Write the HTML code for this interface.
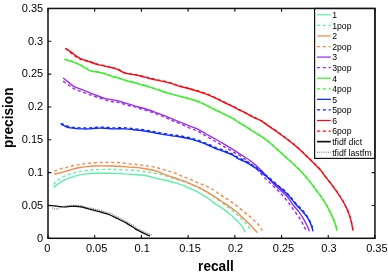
<!DOCTYPE html><html><head><meta charset="utf-8"><style>
html,body{margin:0;padding:0;background:#fff;width:388px;height:274px;overflow:hidden}
svg{display:block;will-change:transform}
text{font-family:"Liberation Sans", sans-serif;}
</style></head><body>
<svg width="388" height="274" viewBox="0 0 388 274">
<rect width="388" height="274" fill="#fff"/>
<path d="M53.40,187.50C54.05,186.98 55.62,185.57 57.30,184.40C58.98,183.23 61.18,181.67 63.50,180.50C65.82,179.33 68.63,178.30 71.20,177.40C73.77,176.50 76.32,175.68 78.90,175.10C81.48,174.52 84.12,174.20 86.70,173.90C89.28,173.60 90.85,173.40 94.40,173.30C97.95,173.20 103.93,173.25 108.00,173.30C112.07,173.35 115.13,173.45 118.80,173.60C122.47,173.75 126.92,174.02 130.00,174.20C133.08,174.38 134.87,174.48 137.30,174.70C139.73,174.92 142.47,175.17 144.60,175.50C146.73,175.83 148.28,176.27 150.10,176.70C151.92,177.13 153.85,177.70 155.50,178.10C157.15,178.50 158.33,178.73 160.00,179.10C161.67,179.47 163.68,179.87 165.50,180.30C167.32,180.73 169.08,181.23 170.90,181.70C172.72,182.17 174.57,182.57 176.40,183.10C178.23,183.63 179.97,184.15 181.90,184.90C183.83,185.65 186.22,186.85 188.00,187.60C189.78,188.35 191.08,188.72 192.60,189.40C194.12,190.08 195.58,190.87 197.10,191.70C198.62,192.53 200.18,193.50 201.70,194.40C203.22,195.30 204.68,196.12 206.20,197.10C207.72,198.08 209.33,199.20 210.80,200.30C212.27,201.40 213.53,202.68 215.00,203.70C216.47,204.72 218.08,205.42 219.60,206.40C221.12,207.38 222.58,208.50 224.10,209.60C225.62,210.70 227.18,211.78 228.70,213.00C230.22,214.22 231.98,215.80 233.20,216.90C234.42,218.00 234.93,218.52 236.00,219.60C237.07,220.68 238.47,222.08 239.60,223.40C240.73,224.72 241.88,226.02 242.80,227.50C243.72,228.98 244.72,231.50 245.10,232.30" fill="none" stroke="#5ef0a8" stroke-width="1.4" stroke-linejoin="round"/>
<path d="M53.40,184.40C54.05,183.75 55.62,181.80 57.30,180.50C58.98,179.20 61.18,177.75 63.50,176.60C65.82,175.45 68.63,174.42 71.20,173.60C73.77,172.78 76.32,172.22 78.90,171.70C81.48,171.18 84.12,170.83 86.70,170.50C89.28,170.17 90.85,169.90 94.40,169.70C97.95,169.50 103.93,169.32 108.00,169.30C112.07,169.28 114.68,169.43 118.80,169.60C122.92,169.77 129.32,170.10 132.70,170.30C136.08,170.50 137.05,170.57 139.10,170.80C141.15,171.03 143.02,171.43 145.00,171.70C146.98,171.97 149.10,172.10 151.00,172.40C152.90,172.70 154.45,173.08 156.40,173.50C158.35,173.92 160.73,174.37 162.70,174.90C164.67,175.43 165.98,175.98 168.20,176.70C170.42,177.42 173.70,178.45 176.00,179.20C178.30,179.95 180.00,180.52 182.00,181.20C184.00,181.88 186.23,182.67 188.00,183.30C189.77,183.93 191.08,184.38 192.60,185.00C194.12,185.62 195.58,186.28 197.10,187.00C198.62,187.72 200.18,188.47 201.70,189.30C203.22,190.13 204.68,191.08 206.20,192.00C207.72,192.92 209.33,193.83 210.80,194.80C212.27,195.77 213.38,196.63 215.00,197.80C216.62,198.97 218.68,200.47 220.50,201.80C222.32,203.13 224.23,204.58 225.90,205.80C227.57,207.02 228.90,207.87 230.50,209.10C232.10,210.33 234.13,212.08 235.50,213.20C236.87,214.32 237.40,214.55 238.70,215.80C240.00,217.05 241.85,219.20 243.30,220.70C244.75,222.20 246.12,223.17 247.40,224.80C248.68,226.43 250.40,229.55 251.00,230.50" fill="none" stroke="#5ef0a8" stroke-width="1.4" stroke-dasharray="3.2 2.6" stroke-linejoin="round"/>
<path d="M54.20,174.30C55.23,174.05 58.33,173.32 60.40,172.80C62.47,172.28 64.55,171.80 66.60,171.20C68.65,170.60 70.65,169.78 72.70,169.20C74.75,168.62 76.57,168.13 78.90,167.70C81.23,167.27 84.12,166.88 86.70,166.60C89.28,166.32 91.83,166.12 94.40,166.00C96.97,165.88 99.83,165.90 102.10,165.90C104.37,165.90 105.22,165.93 108.00,166.00C110.78,166.07 115.13,166.12 118.80,166.30C122.47,166.48 126.92,166.88 130.00,167.10C133.08,167.32 135.02,167.37 137.30,167.60C139.58,167.83 141.57,168.15 143.70,168.50C145.83,168.85 148.13,169.30 150.10,169.70C152.07,170.10 153.85,170.45 155.50,170.90C157.15,171.35 158.33,171.73 160.00,172.40C161.67,173.07 163.68,174.18 165.50,174.90C167.32,175.62 169.08,176.10 170.90,176.70C172.72,177.30 174.57,177.90 176.40,178.50C178.23,179.10 180.08,179.67 181.90,180.30C183.72,180.93 185.52,181.55 187.30,182.30C189.08,183.05 190.97,184.07 192.60,184.80C194.23,185.53 195.58,186.02 197.10,186.70C198.62,187.38 200.18,188.10 201.70,188.90C203.22,189.70 204.68,190.62 206.20,191.50C207.72,192.38 209.28,193.28 210.80,194.20C212.32,195.12 213.83,196.03 215.30,197.00C216.77,197.97 218.13,199.00 219.60,200.00C221.07,201.00 222.58,201.98 224.10,203.00C225.62,204.02 227.18,205.03 228.70,206.10C230.22,207.17 231.68,208.28 233.20,209.40C234.72,210.52 236.42,211.60 237.80,212.80C239.18,214.00 240.13,215.28 241.50,216.60C242.87,217.92 244.48,219.27 246.00,220.70C247.52,222.13 249.23,223.77 250.60,225.20C251.97,226.63 253.07,228.05 254.20,229.30C255.33,230.55 256.87,232.13 257.40,232.70" fill="none" stroke="#f78a4c" stroke-width="1.4" stroke-linejoin="round"/>
<path d="M54.20,171.20C55.23,170.82 58.33,169.53 60.40,168.90C62.47,168.27 64.55,167.92 66.60,167.40C68.65,166.88 70.65,166.27 72.70,165.80C74.75,165.33 76.57,164.98 78.90,164.60C81.23,164.22 84.12,163.82 86.70,163.50C89.28,163.18 91.83,162.88 94.40,162.70C96.97,162.52 99.83,162.45 102.10,162.40C104.37,162.35 105.22,162.37 108.00,162.40C110.78,162.43 115.13,162.35 118.80,162.60C122.47,162.85 126.77,163.57 130.00,163.90C133.23,164.23 135.77,164.33 138.20,164.60C140.63,164.87 142.62,165.20 144.60,165.50C146.58,165.80 148.28,166.08 150.10,166.40C151.92,166.72 153.85,167.03 155.50,167.40C157.15,167.77 158.18,168.08 160.00,168.60C161.82,169.12 164.42,169.92 166.40,170.50C168.38,171.08 170.08,171.50 171.90,172.10C173.72,172.70 175.48,173.37 177.30,174.10C179.12,174.83 180.97,175.77 182.80,176.50C184.63,177.23 186.37,177.72 188.30,178.50C190.23,179.28 192.47,180.37 194.40,181.20C196.33,182.03 198.08,182.75 199.90,183.50C201.72,184.25 203.57,184.95 205.30,185.70C207.03,186.45 208.63,187.08 210.30,188.00C211.97,188.92 213.60,190.03 215.30,191.20C217.00,192.37 218.88,193.92 220.50,195.00C222.12,196.08 223.42,196.72 225.00,197.70C226.58,198.68 228.40,199.83 230.00,200.90C231.60,201.97 233.00,202.88 234.60,204.10C236.20,205.32 238.00,206.90 239.60,208.20C241.20,209.50 242.67,210.67 244.20,211.90C245.73,213.13 247.20,214.22 248.80,215.60C250.40,216.98 252.13,218.60 253.80,220.20C255.47,221.80 257.37,223.50 258.80,225.20C260.23,226.90 261.80,229.53 262.40,230.40" fill="none" stroke="#f78a4c" stroke-width="1.4" stroke-dasharray="3.2 2.6" stroke-linejoin="round"/>
<path d="M63.10,78.00C64.05,78.73 66.95,80.95 68.80,82.40C70.65,83.85 72.13,85.55 74.20,86.70C76.27,87.85 78.75,88.35 81.20,89.30C83.65,90.25 86.32,91.37 88.90,92.40C91.48,93.43 94.12,94.52 96.70,95.50C99.28,96.48 101.83,97.58 104.40,98.30C106.97,99.02 109.83,99.37 112.10,99.80C114.37,100.23 115.73,100.33 118.00,100.90C120.27,101.47 123.12,102.42 125.70,103.20C128.28,103.98 130.92,104.85 133.50,105.60C136.08,106.35 138.63,106.97 141.20,107.70C143.77,108.43 146.32,109.15 148.90,110.00C151.48,110.85 154.12,111.86 156.70,112.80C159.28,113.74 161.83,114.62 164.40,115.63C166.97,116.65 169.83,117.96 172.10,118.90C174.37,119.84 175.35,120.23 178.00,121.30C180.65,122.37 184.82,124.03 188.00,125.30C191.18,126.57 194.07,127.45 197.10,128.90C200.13,130.35 203.17,132.32 206.20,134.00C209.23,135.68 212.32,137.32 215.30,139.00C218.28,140.68 221.12,142.33 224.10,144.10C227.08,145.87 230.17,147.70 233.20,149.60C236.23,151.50 239.55,153.73 242.30,155.50C245.05,157.27 247.72,158.80 249.70,160.20C251.68,161.60 252.82,162.72 254.20,163.90C255.58,165.08 256.63,166.03 258.00,167.30C259.37,168.57 261.07,170.12 262.40,171.50C263.73,172.88 264.73,174.20 266.00,175.60C267.27,177.00 268.67,178.47 270.00,179.90C271.33,181.33 272.48,182.67 274.00,184.20C275.52,185.73 277.43,187.57 279.10,189.10C280.77,190.63 282.48,191.95 284.00,193.40C285.52,194.85 286.65,195.82 288.20,197.80C289.75,199.78 291.53,203.00 293.30,205.30C295.07,207.60 297.17,209.47 298.80,211.60C300.43,213.73 301.83,216.00 303.10,218.10C304.37,220.20 305.53,222.50 306.40,224.20C307.27,225.90 307.83,227.12 308.30,228.30C308.77,229.48 309.05,230.80 309.20,231.30" fill="none" stroke="#9a2cf0" stroke-width="1.4" stroke-linejoin="round"/>
<path d="M63.10,81.10C64.05,81.78 66.95,83.90 68.80,85.20C70.65,86.50 72.13,87.83 74.20,88.90C76.27,89.97 78.75,90.68 81.20,91.60C83.65,92.52 86.32,93.48 88.90,94.40C91.48,95.32 94.12,96.22 96.70,97.10C99.28,97.98 101.83,98.93 104.40,99.70C106.97,100.47 109.83,101.27 112.10,101.70C114.37,102.13 115.73,101.78 118.00,102.30C120.27,102.82 123.12,104.08 125.70,104.80C128.28,105.52 130.92,105.90 133.50,106.60C136.08,107.30 138.63,108.22 141.20,109.00C143.77,109.78 146.32,110.45 148.90,111.30C151.48,112.15 154.12,113.14 156.70,114.10C159.28,115.06 161.83,115.97 164.40,117.03C166.97,118.10 169.83,119.52 172.10,120.50C174.37,121.48 174.90,121.57 178.00,122.90C181.10,124.23 187.52,127.18 190.70,128.50C193.88,129.82 195.27,129.97 197.10,130.80C198.93,131.63 200.18,132.60 201.70,133.50C203.22,134.40 204.53,135.22 206.20,136.20C207.87,137.18 209.93,138.40 211.70,139.40C213.47,140.40 214.73,141.00 216.80,142.20C218.87,143.40 221.37,144.98 224.10,146.60C226.83,148.22 230.15,150.15 233.20,151.90C236.25,153.65 240.12,155.62 242.40,157.10C244.68,158.58 245.38,159.50 246.90,160.80C248.42,162.10 249.82,163.45 251.50,164.90C253.18,166.35 255.50,168.10 257.00,169.50C258.50,170.90 259.37,172.07 260.50,173.30C261.63,174.53 262.52,175.58 263.80,176.90C265.08,178.22 266.85,179.90 268.20,181.20C269.55,182.50 270.53,183.38 271.90,184.70C273.27,186.02 274.90,187.60 276.40,189.10C277.90,190.60 279.53,192.25 280.90,193.70C282.27,195.15 283.38,196.37 284.60,197.80C285.82,199.23 287.03,200.73 288.20,202.30C289.37,203.87 290.20,205.28 291.60,207.20C293.00,209.12 295.03,211.62 296.60,213.80C298.17,215.98 299.73,218.12 301.00,220.30C302.27,222.48 303.30,225.17 304.20,226.90C305.10,228.63 306.03,230.07 306.40,230.70" fill="none" stroke="#9a2cf0" stroke-width="1.4" stroke-dasharray="3.2 2.6" stroke-linejoin="round"/>
<path d="M64.50,59.30C65.22,59.52 67.30,60.13 68.80,60.60C70.30,61.07 71.70,61.42 73.50,62.10C75.30,62.78 77.67,63.75 79.60,64.70C81.53,65.65 83.28,66.77 85.10,67.80C86.92,68.83 88.32,70.17 90.50,70.90C92.68,71.63 95.88,71.73 98.20,72.20C100.52,72.67 102.08,72.98 104.40,73.70C106.72,74.42 109.83,75.78 112.10,76.50C114.37,77.22 115.73,77.33 118.00,78.00C120.27,78.67 123.12,79.75 125.70,80.50C128.28,81.25 130.92,81.82 133.50,82.50C136.08,83.18 138.63,83.88 141.20,84.60C143.77,85.32 146.32,86.02 148.90,86.80C151.48,87.58 154.12,88.43 156.70,89.30C159.28,90.17 161.83,91.17 164.40,92.00C166.97,92.83 169.83,93.65 172.10,94.30C174.37,94.95 175.73,95.30 178.00,95.90C180.27,96.50 183.12,97.22 185.70,97.90C188.28,98.58 190.92,99.18 193.50,100.00C196.08,100.82 198.63,101.68 201.20,102.80C203.77,103.92 206.32,105.42 208.90,106.70C211.48,107.98 214.12,109.23 216.70,110.50C219.28,111.77 221.83,113.03 224.40,114.30C226.97,115.57 229.83,116.82 232.10,118.10C234.37,119.38 235.73,120.58 238.00,122.00C240.27,123.42 243.12,124.98 245.70,126.60C248.28,128.22 250.92,130.08 253.50,131.70C256.08,133.32 258.63,134.58 261.20,136.30C263.77,138.02 266.32,139.90 268.90,142.00C271.48,144.10 274.12,146.58 276.70,148.90C279.28,151.22 281.83,153.58 284.40,155.90C286.97,158.22 289.83,160.72 292.10,162.80C294.37,164.88 296.25,166.67 298.00,168.40C299.75,170.13 300.93,171.37 302.60,173.20C304.27,175.03 306.00,176.93 308.00,179.40C310.00,181.87 311.92,184.38 314.60,188.00C317.28,191.62 321.33,196.75 324.10,201.10C326.87,205.45 329.30,210.15 331.20,214.10C333.10,218.05 334.52,222.00 335.50,224.80C336.48,227.60 336.83,229.88 337.10,230.90" fill="none" stroke="#38f028" stroke-width="1.4" stroke-linejoin="round"/>
<path d="M64.50,59.10C65.22,59.32 67.30,59.93 68.80,60.40C70.30,60.87 71.70,61.22 73.50,61.90C75.30,62.58 77.67,63.55 79.60,64.50C81.53,65.45 83.28,66.57 85.10,67.60C86.92,68.63 88.32,69.97 90.50,70.70C92.68,71.43 95.88,71.53 98.20,72.00C100.52,72.47 102.08,72.78 104.40,73.50C106.72,74.22 109.83,75.58 112.10,76.30C114.37,77.02 115.73,77.13 118.00,77.80C120.27,78.47 123.12,79.55 125.70,80.30C128.28,81.05 130.92,81.62 133.50,82.30C136.08,82.98 138.63,83.68 141.20,84.40C143.77,85.12 146.32,85.82 148.90,86.60C151.48,87.38 154.12,88.23 156.70,89.10C159.28,89.97 161.83,90.97 164.40,91.80C166.97,92.63 169.83,93.45 172.10,94.10C174.37,94.75 175.73,95.10 178.00,95.70C180.27,96.30 183.12,97.02 185.70,97.70C188.28,98.38 190.92,98.98 193.50,99.80C196.08,100.62 198.63,101.48 201.20,102.60C203.77,103.72 206.32,105.22 208.90,106.50C211.48,107.78 214.12,109.03 216.70,110.30C219.28,111.57 221.83,112.83 224.40,114.10C226.97,115.37 229.83,116.62 232.10,117.90C234.37,119.18 235.73,120.38 238.00,121.80C240.27,123.22 243.12,124.78 245.70,126.40C248.28,128.02 250.92,129.88 253.50,131.50C256.08,133.12 258.63,134.38 261.20,136.10C263.77,137.82 266.32,139.70 268.90,141.80C271.48,143.90 274.12,146.38 276.70,148.70C279.28,151.02 281.83,153.38 284.40,155.70C286.97,158.02 289.83,160.52 292.10,162.60C294.37,164.68 296.25,166.47 298.00,168.20C299.75,169.93 300.93,171.17 302.60,173.00C304.27,174.83 306.00,176.73 308.00,179.20C310.00,181.67 311.92,184.18 314.60,187.80C317.28,191.42 321.33,196.55 324.10,200.90C326.87,205.25 329.30,209.95 331.20,213.90C333.10,217.85 334.52,221.80 335.50,224.60C336.48,227.40 336.83,229.68 337.10,230.70" fill="none" stroke="#38f028" stroke-width="1.4" stroke-dasharray="3.2 2.6" stroke-linejoin="round"/>
<path d="M60.80,124.30C61.62,124.67 64.10,125.90 65.70,126.50C67.30,127.10 68.58,127.55 70.40,127.90C72.22,128.25 74.55,128.43 76.60,128.60C78.65,128.77 80.65,128.85 82.70,128.90C84.75,128.95 86.57,129.02 88.90,128.90C91.23,128.78 94.12,128.32 96.70,128.20C99.28,128.08 101.83,128.08 104.40,128.20C106.97,128.32 109.83,128.80 112.10,128.90C114.37,129.00 115.73,128.80 118.00,128.80C120.27,128.80 123.12,128.75 125.70,128.90C128.28,129.05 130.92,129.43 133.50,129.70C136.08,129.97 138.63,130.17 141.20,130.50C143.77,130.83 146.32,131.25 148.90,131.70C151.48,132.15 154.12,132.72 156.70,133.20C159.28,133.68 161.83,134.15 164.40,134.60C166.97,135.05 169.83,135.59 172.10,135.90C174.37,136.21 175.73,136.12 178.00,136.47C180.27,136.82 183.12,137.45 185.70,138.00C188.28,138.55 190.92,139.07 193.50,139.80C196.08,140.53 198.63,141.45 201.20,142.40C203.77,143.35 206.60,144.52 208.90,145.50C211.20,146.48 212.47,147.30 215.00,148.30C217.53,149.30 221.07,150.33 224.10,151.50C227.13,152.67 230.88,154.12 233.20,155.30C235.52,156.48 235.92,157.48 238.00,158.60C240.08,159.72 243.70,161.00 245.70,162.00C247.70,163.00 248.45,163.65 250.00,164.60C251.55,165.55 253.53,166.75 255.00,167.70C256.47,168.65 257.28,169.15 258.80,170.30C260.32,171.45 262.40,173.22 264.10,174.60C265.80,175.98 267.48,177.33 269.00,178.60C270.52,179.87 272.00,181.17 273.20,182.20C274.40,183.23 275.22,183.95 276.20,184.80C277.18,185.65 278.08,186.50 279.10,187.30C280.12,188.10 280.78,188.27 282.30,189.60C283.82,190.93 286.58,193.63 288.20,195.30C289.82,196.97 290.60,197.95 292.00,199.60C293.40,201.25 294.93,203.35 296.60,205.20C298.27,207.05 300.37,208.87 302.00,210.70C303.63,212.53 305.12,214.38 306.40,216.20C307.68,218.02 308.78,219.80 309.70,221.60C310.62,223.40 311.35,225.38 311.90,227.00C312.45,228.62 312.82,230.58 313.00,231.30" fill="none" stroke="#0c2cff" stroke-width="1.4" stroke-linejoin="round"/>
<path d="M60.80,123.30C61.62,123.67 64.10,124.90 65.70,125.50C67.30,126.10 68.58,126.55 70.40,126.90C72.22,127.25 74.55,127.43 76.60,127.60C78.65,127.77 80.65,127.85 82.70,127.90C84.75,127.95 86.57,128.02 88.90,127.90C91.23,127.78 94.12,127.32 96.70,127.20C99.28,127.08 101.83,127.08 104.40,127.20C106.97,127.32 109.83,127.80 112.10,127.90C114.37,128.00 115.73,127.80 118.00,127.80C120.27,127.80 123.12,127.75 125.70,127.90C128.28,128.05 130.92,128.43 133.50,128.70C136.08,128.97 138.63,129.17 141.20,129.50C143.77,129.83 146.32,130.25 148.90,130.70C151.48,131.15 154.12,131.72 156.70,132.20C159.28,132.68 161.83,133.15 164.40,133.60C166.97,134.05 169.83,134.59 172.10,134.90C174.37,135.21 175.73,135.12 178.00,135.47C180.27,135.82 183.12,136.45 185.70,137.00C188.28,137.55 190.92,138.07 193.50,138.80C196.08,139.53 198.63,140.45 201.20,141.40C203.77,142.35 206.60,143.52 208.90,144.50C211.20,145.48 212.47,146.30 215.00,147.30C217.53,148.30 221.07,149.33 224.10,150.50C227.13,151.67 230.88,153.12 233.20,154.30C235.52,155.48 235.92,156.48 238.00,157.60C240.08,158.72 243.70,160.00 245.70,161.00C247.70,162.00 248.45,162.65 250.00,163.60C251.55,164.55 253.53,165.75 255.00,166.70C256.47,167.65 257.28,168.15 258.80,169.30C260.32,170.45 262.40,172.22 264.10,173.60C265.80,174.98 267.48,176.33 269.00,177.60C270.52,178.87 272.00,180.17 273.20,181.20C274.40,182.23 275.22,182.95 276.20,183.80C277.18,184.65 278.08,185.50 279.10,186.30C280.12,187.10 280.78,187.27 282.30,188.60C283.82,189.93 286.58,192.63 288.20,194.30C289.82,195.97 290.60,196.95 292.00,198.60C293.40,200.25 294.93,202.35 296.60,204.20C298.27,206.05 300.37,207.87 302.00,209.70C303.63,211.53 305.12,213.38 306.40,215.20C307.68,217.02 308.78,218.80 309.70,220.60C310.62,222.40 311.35,224.38 311.90,226.00C312.45,227.62 312.82,229.58 313.00,230.30" fill="none" stroke="#0c2cff" stroke-width="1.4" stroke-dasharray="3.2 2.6" stroke-linejoin="round"/>
<path d="M65.40,48.50C66.10,48.93 68.25,50.20 69.60,51.10C70.95,52.00 72.22,52.97 73.50,53.90C74.78,54.83 76.02,55.87 77.30,56.70C78.58,57.53 79.27,58.08 81.20,58.90C83.13,59.72 86.32,60.70 88.90,61.60C91.48,62.50 94.12,63.57 96.70,64.30C99.28,65.03 101.83,65.42 104.40,66.00C106.97,66.58 109.83,67.22 112.10,67.80C114.37,68.38 115.85,68.62 118.00,69.50C120.15,70.38 122.42,72.25 125.00,73.10C127.58,73.95 130.80,74.08 133.50,74.60C136.20,75.12 138.63,75.60 141.20,76.20C143.77,76.80 146.32,77.55 148.90,78.20C151.48,78.85 154.12,79.53 156.70,80.10C159.28,80.67 161.83,81.02 164.40,81.60C166.97,82.18 169.83,82.90 172.10,83.60C174.37,84.30 175.73,85.10 178.00,85.80C180.27,86.50 183.12,87.10 185.70,87.80C188.28,88.50 190.92,89.25 193.50,90.00C196.08,90.75 198.63,91.45 201.20,92.30C203.77,93.15 206.32,94.03 208.90,95.10C211.48,96.17 214.12,97.47 216.70,98.70C219.28,99.93 221.83,101.25 224.40,102.50C226.97,103.75 229.83,105.07 232.10,106.20C234.37,107.33 235.73,108.15 238.00,109.30C240.27,110.45 243.12,111.77 245.70,113.10C248.28,114.43 250.92,116.00 253.50,117.30C256.08,118.60 259.02,119.68 261.20,120.90C263.38,122.12 264.67,123.27 266.60,124.60C268.53,125.93 270.73,127.45 272.80,128.90C274.87,130.35 277.07,131.92 279.00,133.30C280.93,134.68 282.47,135.75 284.40,137.20C286.33,138.65 288.33,140.18 290.60,142.00C292.87,143.82 295.48,145.87 298.00,148.10C300.52,150.33 303.12,152.93 305.70,155.40C308.28,157.87 310.92,160.32 313.50,162.90C316.08,165.48 319.43,168.88 321.20,170.90C322.97,172.92 322.23,172.53 324.10,175.00C325.97,177.47 329.63,181.95 332.40,185.70C335.17,189.45 338.33,193.75 340.70,197.50C343.07,201.25 344.95,204.63 346.60,208.20C348.25,211.77 349.53,215.18 350.60,218.90C351.67,222.62 352.60,228.57 353.00,230.50" fill="none" stroke="#fa0a14" stroke-width="1.4" stroke-linejoin="round"/>
<path d="M65.40,48.20C66.10,48.80 68.25,50.71 69.60,51.79C70.95,52.87 72.22,53.75 73.50,54.70C74.78,55.65 76.02,56.67 77.30,57.50C78.58,58.33 79.27,59.07 81.20,59.70C83.13,60.33 86.32,60.58 88.90,61.30C91.48,62.02 94.12,63.27 96.70,64.00C99.28,64.73 101.83,65.12 104.40,65.70C106.97,66.28 109.83,66.92 112.10,67.50C114.37,68.08 115.85,68.32 118.00,69.20C120.15,70.08 122.42,71.95 125.00,72.80C127.58,73.65 130.80,73.78 133.50,74.30C136.20,74.82 138.63,75.30 141.20,75.90C143.77,76.50 146.32,77.25 148.90,77.90C151.48,78.55 154.12,79.23 156.70,79.80C159.28,80.37 161.83,80.72 164.40,81.30C166.97,81.88 169.83,82.60 172.10,83.30C174.37,84.00 175.73,84.80 178.00,85.50C180.27,86.20 183.12,86.80 185.70,87.50C188.28,88.20 190.92,88.95 193.50,89.70C196.08,90.45 198.63,91.15 201.20,92.00C203.77,92.85 206.32,93.73 208.90,94.80C211.48,95.87 214.12,97.17 216.70,98.40C219.28,99.63 221.83,100.95 224.40,102.20C226.97,103.45 229.83,104.77 232.10,105.90C234.37,107.03 235.73,107.85 238.00,109.00C240.27,110.15 243.12,111.47 245.70,112.80C248.28,114.13 250.92,115.70 253.50,117.00C256.08,118.30 259.02,119.38 261.20,120.60C263.38,121.82 264.67,122.97 266.60,124.30C268.53,125.63 270.73,127.15 272.80,128.60C274.87,130.05 277.07,131.62 279.00,133.00C280.93,134.38 282.47,135.45 284.40,136.90C286.33,138.35 288.33,139.88 290.60,141.70C292.87,143.52 295.48,145.57 298.00,147.80C300.52,150.03 303.12,152.63 305.70,155.10C308.28,157.57 310.92,160.02 313.50,162.60C316.08,165.18 319.43,168.58 321.20,170.60C322.97,172.62 322.23,172.23 324.10,174.70C325.97,177.17 329.63,181.65 332.40,185.40C335.17,189.15 338.33,193.45 340.70,197.20C343.07,200.95 344.95,204.33 346.60,207.90C348.25,211.47 349.53,214.88 350.60,218.60C351.67,222.32 352.60,228.27 353.00,230.20" fill="none" stroke="#fa0a14" stroke-width="1.4" stroke-dasharray="3.2 2.6" stroke-linejoin="round"/>
<path d="M48.60,205.53C49.20,205.55 50.92,205.56 52.20,205.65C53.48,205.74 54.93,205.90 56.30,206.05C57.67,206.20 59.02,206.40 60.40,206.55C61.78,206.70 63.57,206.91 64.60,206.95C65.63,206.99 65.58,206.90 66.60,206.80C67.62,206.70 69.15,206.44 70.70,206.35C72.25,206.26 74.35,206.18 75.90,206.25C77.45,206.32 78.67,206.54 80.00,206.75C81.33,206.96 82.62,207.19 83.90,207.48C85.18,207.78 86.42,208.13 87.70,208.50C88.98,208.87 90.30,209.33 91.60,209.70C92.90,210.07 94.22,210.38 95.50,210.70C96.78,211.02 98.02,211.25 99.30,211.60C100.58,211.95 101.90,212.42 103.20,212.80C104.50,213.18 105.97,213.53 107.10,213.90C108.23,214.27 108.87,214.52 110.00,215.00C111.13,215.48 112.62,216.18 113.90,216.80C115.18,217.42 116.42,218.07 117.70,218.70C118.98,219.33 120.30,219.95 121.60,220.60C122.90,221.25 124.22,221.88 125.50,222.60C126.78,223.32 128.02,224.13 129.30,224.90C130.58,225.67 132.20,226.53 133.20,227.20C134.20,227.87 134.40,228.32 135.30,228.90C136.20,229.48 137.50,230.13 138.60,230.70C139.70,231.27 140.80,231.77 141.90,232.30C143.00,232.83 144.12,233.38 145.20,233.90C146.28,234.42 147.60,235.05 148.40,235.40C149.20,235.75 149.73,235.90 150.00,236.00" fill="none" stroke="#111" stroke-width="1.35" stroke-linejoin="round"/>
<path d="M52.20,207.80C52.53,207.97 53.52,208.58 54.20,208.80C54.88,209.02 55.60,209.18 56.30,209.10C57.00,209.02 57.53,208.63 58.40,208.30C59.27,207.97 60.47,207.43 61.50,207.10C62.53,206.77 63.75,206.55 64.60,206.30C65.45,206.05 65.50,205.75 66.60,205.60C67.70,205.45 69.57,205.45 71.20,205.40C72.83,205.35 74.85,205.23 76.40,205.30C77.95,205.37 79.17,205.57 80.50,205.80C81.83,206.03 83.12,206.35 84.40,206.70C85.68,207.05 86.92,207.63 88.20,207.90C89.48,208.17 90.80,208.07 92.10,208.30C93.40,208.53 94.72,208.98 96.00,209.30C97.28,209.62 98.52,209.85 99.80,210.20C101.08,210.55 102.40,211.02 103.70,211.40C105.00,211.78 106.47,212.13 107.60,212.50C108.73,212.87 109.37,213.12 110.50,213.60C111.63,214.08 113.12,214.78 114.40,215.40C115.68,216.02 116.92,216.67 118.20,217.30C119.48,217.93 120.80,218.55 122.10,219.20C123.40,219.85 124.72,220.48 126.00,221.20C127.28,221.92 128.52,222.73 129.80,223.50C131.08,224.27 132.70,225.13 133.70,225.80C134.70,226.47 134.90,226.92 135.80,227.50C136.70,228.08 138.00,228.73 139.10,229.30C140.20,229.87 141.30,230.37 142.40,230.90C143.50,231.43 144.62,231.98 145.70,232.50C146.78,233.02 148.10,233.65 148.90,234.00C149.70,234.35 149.92,234.38 150.50,234.60C151.08,234.82 152.08,235.18 152.40,235.30" fill="none" stroke="#666" stroke-width="1.1" stroke-dasharray="1 1.2" stroke-linejoin="round"/>
<path d="M48.00,238.30v-3.3M48.00,8.45v3.3M48.00,238.30h3.3M374.95,238.30h-3.3M94.71,238.30v-3.3M94.71,8.45v3.3M48.00,205.46h3.3M374.95,205.46h-3.3M141.41,238.30v-3.3M141.41,8.45v3.3M48.00,172.63h3.3M374.95,172.63h-3.3M188.12,238.30v-3.3M188.12,8.45v3.3M48.00,139.79h3.3M374.95,139.79h-3.3M234.83,238.30v-3.3M234.83,8.45v3.3M48.00,106.96h3.3M374.95,106.96h-3.3M281.54,238.30v-3.3M281.54,8.45v3.3M48.00,74.12h3.3M374.95,74.12h-3.3M328.24,238.30v-3.3M328.24,8.45v3.3M48.00,41.29h3.3M374.95,41.29h-3.3M374.95,238.30v-3.3M374.95,8.45v3.3M48.00,8.45h3.3M374.95,8.45h-3.3" stroke="#111" stroke-width="1.1" fill="none"/>
<text transform="translate(43.20,241.60) scale(1.05,1)" font-size="10.5" text-anchor="end" fill="#000">0</text>
<text transform="translate(47.40,251.80) scale(1.05,1)" font-size="10.5" text-anchor="middle" fill="#000">0</text>
<text transform="translate(43.20,208.76) scale(1.05,1)" font-size="10.5" text-anchor="end" fill="#000">0.05</text>
<text transform="translate(96.66,251.80) scale(1.05,1)" font-size="10.5" text-anchor="middle" fill="#000">0.05</text>
<text transform="translate(43.20,175.93) scale(1.05,1)" font-size="10.5" text-anchor="end" fill="#000">0.1</text>
<text transform="translate(142.11,251.80) scale(1.05,1)" font-size="10.5" text-anchor="middle" fill="#000">0.1</text>
<text transform="translate(43.20,143.09) scale(1.05,1)" font-size="10.5" text-anchor="end" fill="#000">0.15</text>
<text transform="translate(190.07,251.80) scale(1.05,1)" font-size="10.5" text-anchor="middle" fill="#000">0.15</text>
<text transform="translate(43.20,110.26) scale(1.05,1)" font-size="10.5" text-anchor="end" fill="#000">0.2</text>
<text transform="translate(235.53,251.80) scale(1.05,1)" font-size="10.5" text-anchor="middle" fill="#000">0.2</text>
<text transform="translate(43.20,77.42) scale(1.05,1)" font-size="10.5" text-anchor="end" fill="#000">0.25</text>
<text transform="translate(283.49,251.80) scale(1.05,1)" font-size="10.5" text-anchor="middle" fill="#000">0.25</text>
<text transform="translate(43.20,44.59) scale(1.05,1)" font-size="10.5" text-anchor="end" fill="#000">0.3</text>
<text transform="translate(328.94,251.80) scale(1.05,1)" font-size="10.5" text-anchor="middle" fill="#000">0.3</text>
<text transform="translate(43.20,11.75) scale(1.05,1)" font-size="10.5" text-anchor="end" fill="#000">0.35</text>
<text transform="translate(376.90,251.80) scale(1.05,1)" font-size="10.5" text-anchor="middle" fill="#000">0.35</text>
<text transform="translate(215.9,270.6) scale(0.91,1)" font-size="15" font-weight="bold" text-anchor="middle" fill="#000">recall</text>
<text transform="translate(12.5,117.8) rotate(-90) scale(0.91,1)" font-size="15" font-weight="bold" text-anchor="middle" fill="#000">precision</text>
<rect x="314.6" y="8.45" width="60.35" height="149.95" fill="#fff" stroke="#111" stroke-width="1.2"/>
<path d="M317,14.80H330.8" stroke="#5ef0a8" stroke-width="1.25" fill="none"/>
<text x="332.2" y="18.10" font-size="8.7" fill="#000">1</text>
<path d="M317,25.37H330.8" stroke="#5ef0a8" stroke-width="1.25" stroke-dasharray="3.2 2.6" fill="none"/>
<text x="332.2" y="28.67" font-size="8.7" fill="#000">1pop</text>
<path d="M317,35.94H330.8" stroke="#f78a4c" stroke-width="1.25" fill="none"/>
<text x="332.2" y="39.24" font-size="8.7" fill="#000">2</text>
<path d="M317,46.51H330.8" stroke="#f78a4c" stroke-width="1.25" stroke-dasharray="3.2 2.6" fill="none"/>
<text x="332.2" y="49.81" font-size="8.7" fill="#000">2pop</text>
<path d="M317,57.08H330.8" stroke="#9a2cf0" stroke-width="1.25" fill="none"/>
<text x="332.2" y="60.38" font-size="8.7" fill="#000">3</text>
<path d="M317,67.65H330.8" stroke="#9a2cf0" stroke-width="1.25" stroke-dasharray="3.2 2.6" fill="none"/>
<text x="332.2" y="70.95" font-size="8.7" fill="#000">3pop</text>
<path d="M317,78.22H330.8" stroke="#38f028" stroke-width="1.25" fill="none"/>
<text x="332.2" y="81.52" font-size="8.7" fill="#000">4</text>
<path d="M317,88.79H330.8" stroke="#38f028" stroke-width="1.25" stroke-dasharray="3.2 2.6" fill="none"/>
<text x="332.2" y="92.09" font-size="8.7" fill="#000">4pop</text>
<path d="M317,99.36H330.8" stroke="#0c2cff" stroke-width="1.25" fill="none"/>
<text x="332.2" y="102.66" font-size="8.7" fill="#000">5</text>
<path d="M317,109.93H330.8" stroke="#0c2cff" stroke-width="1.25" stroke-dasharray="3.2 2.6" fill="none"/>
<text x="332.2" y="113.23" font-size="8.7" fill="#000">5pop</text>
<path d="M317,120.50H330.8" stroke="#fa0a14" stroke-width="1.25" fill="none"/>
<text x="332.2" y="123.80" font-size="8.7" fill="#000">6</text>
<path d="M317,131.07H330.8" stroke="#fa0a14" stroke-width="1.25" stroke-dasharray="3.2 2.6" fill="none"/>
<text x="332.2" y="134.37" font-size="8.7" fill="#000">6pop</text>
<path d="M317,141.64H330.8" stroke="#111" stroke-width="1.7" fill="none"/>
<text x="332.2" y="144.94" font-size="8.7" fill="#000">tfidf dict</text>
<path d="M317,152.21H330.8" stroke="#666" stroke-width="1.0" stroke-dasharray="1 1.2" fill="none"/>
<text x="332.2" y="155.51" font-size="8.7" fill="#000">tfidf lastfm</text>
<rect x="48.0" y="8.45" width="326.95" height="229.85" fill="none" stroke="#111" stroke-width="1.5"/>
</svg></body></html>
